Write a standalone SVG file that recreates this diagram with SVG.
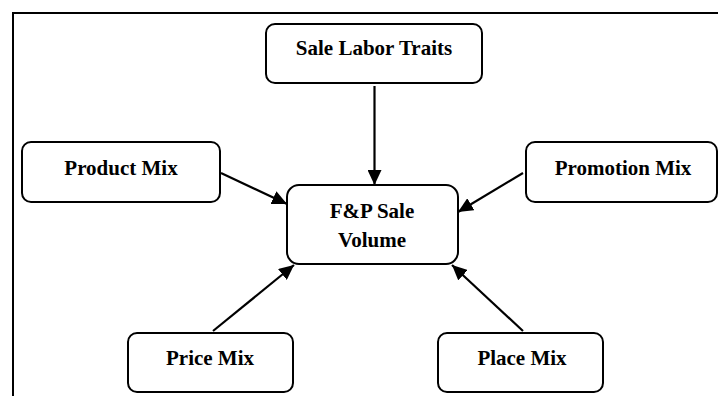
<svg xmlns="http://www.w3.org/2000/svg" width="718" height="396" viewBox="0 0 718 396">
<style>
.box{fill:#fff;stroke:#000;stroke-width:2}
.lbl{font-family:"Liberation Serif","Times New Roman",serif;font-weight:bold;font-size:21px;fill:#000;text-anchor:middle}
.edge{stroke:#000;stroke-width:2.2;fill:none;marker-end:url(#ah)}
</style>
<defs>
<marker id="ah" markerUnits="userSpaceOnUse" markerWidth="16" markerHeight="14" refX="15" refY="7" orient="auto">
<path d="M0,0 L15,7 L0,14 Z" fill="#000"/>
</marker>
</defs>
<rect width="718" height="396" fill="#fff"/>
<path d="M13,396 V13 H718" fill="none" stroke="#000" stroke-width="2"/>
<g id="connectors">
<line class="edge" x1="374.5" y1="86" x2="374.5" y2="185"/>
<line class="edge" x1="221" y1="173" x2="287" y2="204"/>
<line class="edge" x1="523" y1="173" x2="458" y2="212"/>
<line class="edge" x1="213" y1="331" x2="294" y2="265"/>
<line class="edge" x1="523" y1="331" x2="452" y2="265"/>
</g>
<g id="sale-labor-traits">
<rect class="box" x="266" y="24" width="216" height="59" rx="9"/>
<text class="lbl" x="374" y="55">Sale Labor Traits</text>
</g>
<g id="product-mix">
<rect class="box" x="22" y="142" width="198" height="60" rx="9"/>
<text class="lbl" x="121" y="175">Product Mix</text>
</g>
<g id="promotion-mix">
<rect class="box" x="526" y="142" width="191" height="60" rx="9"/>
<text class="lbl" x="623" y="175">Promotion Mix</text>
</g>
<g id="fp-sale-volume">
<rect class="box" x="287" y="185" width="171" height="79" rx="12"/>
<text class="lbl" x="372" y="218">F&amp;P Sale</text>
<text class="lbl" x="372" y="247">Volume</text>
</g>
<g id="price-mix">
<rect class="box" x="128" y="333" width="165" height="59" rx="9"/>
<text class="lbl" x="210" y="365">Price Mix</text>
</g>
<g id="place-mix">
<rect class="box" x="438" y="333" width="165" height="59" rx="9"/>
<text class="lbl" x="522" y="365">Place Mix</text>
</g>
</svg>
